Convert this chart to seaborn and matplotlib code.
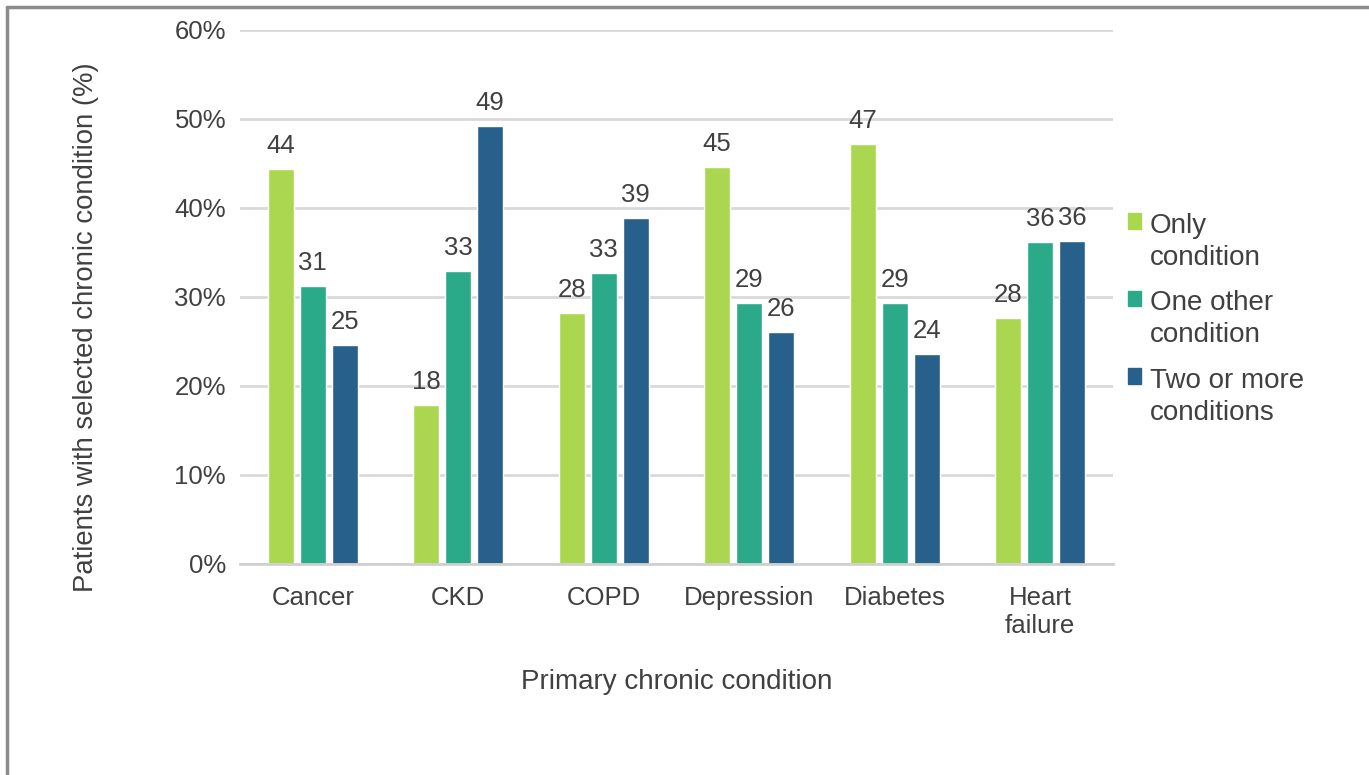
import matplotlib
matplotlib.use('Agg')
import matplotlib.pyplot as plt
from matplotlib.lines import Line2D
from matplotlib.patches import Rectangle
from matplotlib.legend_handler import HandlerPatch
from matplotlib.ticker import PercentFormatter
import seaborn as sns
import pandas as pd

conditions = ['Cancer', 'CKD', 'COPD', 'Depression', 'Diabetes', 'Heart failure']
tick_labels = ['Cancer', 'CKD', 'COPD', 'Depression', 'Diabetes', 'Heart\nfailure']
series = ['Only\ncondition', 'One other\ncondition', 'Two or more\nconditions']
only_condition = [44.4, 17.9, 28.2, 44.6, 47.2, 27.6]
one_other = [31.2, 32.9, 32.7, 29.3, 29.3, 36.2]
two_or_more = [24.6, 49.2, 38.9, 26.1, 23.6, 36.3]
colors = ['#AAD650', '#2AAA88', '#27608A']

df = pd.DataFrame({
    'condition': conditions * 3,
    'group': [series[0]] * 6 + [series[1]] * 6 + [series[2]] * 6,
    'value': only_condition + one_other + two_or_more,
})

sns.set_style('white')
plt.rcParams['font.family'] = ['Liberation Sans', 'DejaVu Sans']
text_col = '#404040'

fig = plt.figure(figsize=(13.69, 7.75), dpi=100)
ax = fig.add_axes([0.1753, 0.2723, 0.6377, 0.6890])

sns.barplot(data=df, x='condition', y='value', hue='group', order=conditions,
            hue_order=series, palette=colors, width=0.66, gap=0.2,
            saturation=1, errorbar=None, ax=ax)

for cont in ax.containers:
    ax.bar_label(cont, labels=[f'{v:.0f}' for v in cont.datavalues],
                 padding=8, fontsize=18.5, color=text_col)

ax.set_ylim(0, 60)
ax.set_yticks(range(0, 61, 10))
ax.yaxis.set_major_formatter(PercentFormatter(decimals=0))
ax.grid(axis='y', color='#D9D9D9', linewidth=2)
ax.set_axisbelow(True)
for s in ['left', 'right', 'top']:
    ax.spines[s].set_visible(False)
ax.spines['bottom'].set_color('#D0D0D0')
ax.spines['bottom'].set_linewidth(2)
ax.set_xticks(range(len(conditions)))
ax.set_xticklabels(tick_labels)
ax.tick_params(axis='both', length=0, labelsize=18.5, labelcolor=text_col)
ax.tick_params(axis='y', pad=10)
ax.tick_params(axis='x', pad=16)

ax.set_xlabel('Primary chronic condition', fontsize=20, color=text_col, labelpad=22)
ax.set_ylabel('Patients with selected chronic condition (%)', fontsize=19.8,
              color=text_col)
ax.yaxis.set_label_coords(-0.1615, 0.444)


# legend square sits next to the first line of the wrapped label
def top_square(legend, orig_handle, xdescent, ydescent, width, height, fontsize):
    return Rectangle((-xdescent, -ydescent + 0.75 * fontsize), width, height)


handles = [Rectangle((0, 0), 1, 1, color=c) for c in colors]
leg = ax.legend(handles, series, loc='center left', bbox_to_anchor=(0.989, 0.4585),
                frameon=False, fontsize=20, labelcolor=text_col, handlelength=0.47,
                handleheight=0.47, handletextpad=0.3, labelspacing=0.7,
                handler_map={Rectangle: HandlerPatch(patch_func=top_square)})
for t in leg.get_texts():
    t.set_linespacing(1.3)

# partial frame around the figure (left and top only)
fig.add_artist(Line2D([0.0048, 0.0048], [0, 0.991], color='#8C8C8C', lw=2.5,
                      transform=fig.transFigure))
fig.add_artist(Line2D([0.0048, 1], [0.991, 0.991], color='#8C8C8C', lw=2.5,
                      transform=fig.transFigure))

fig.savefig('out.png', dpi=100)
